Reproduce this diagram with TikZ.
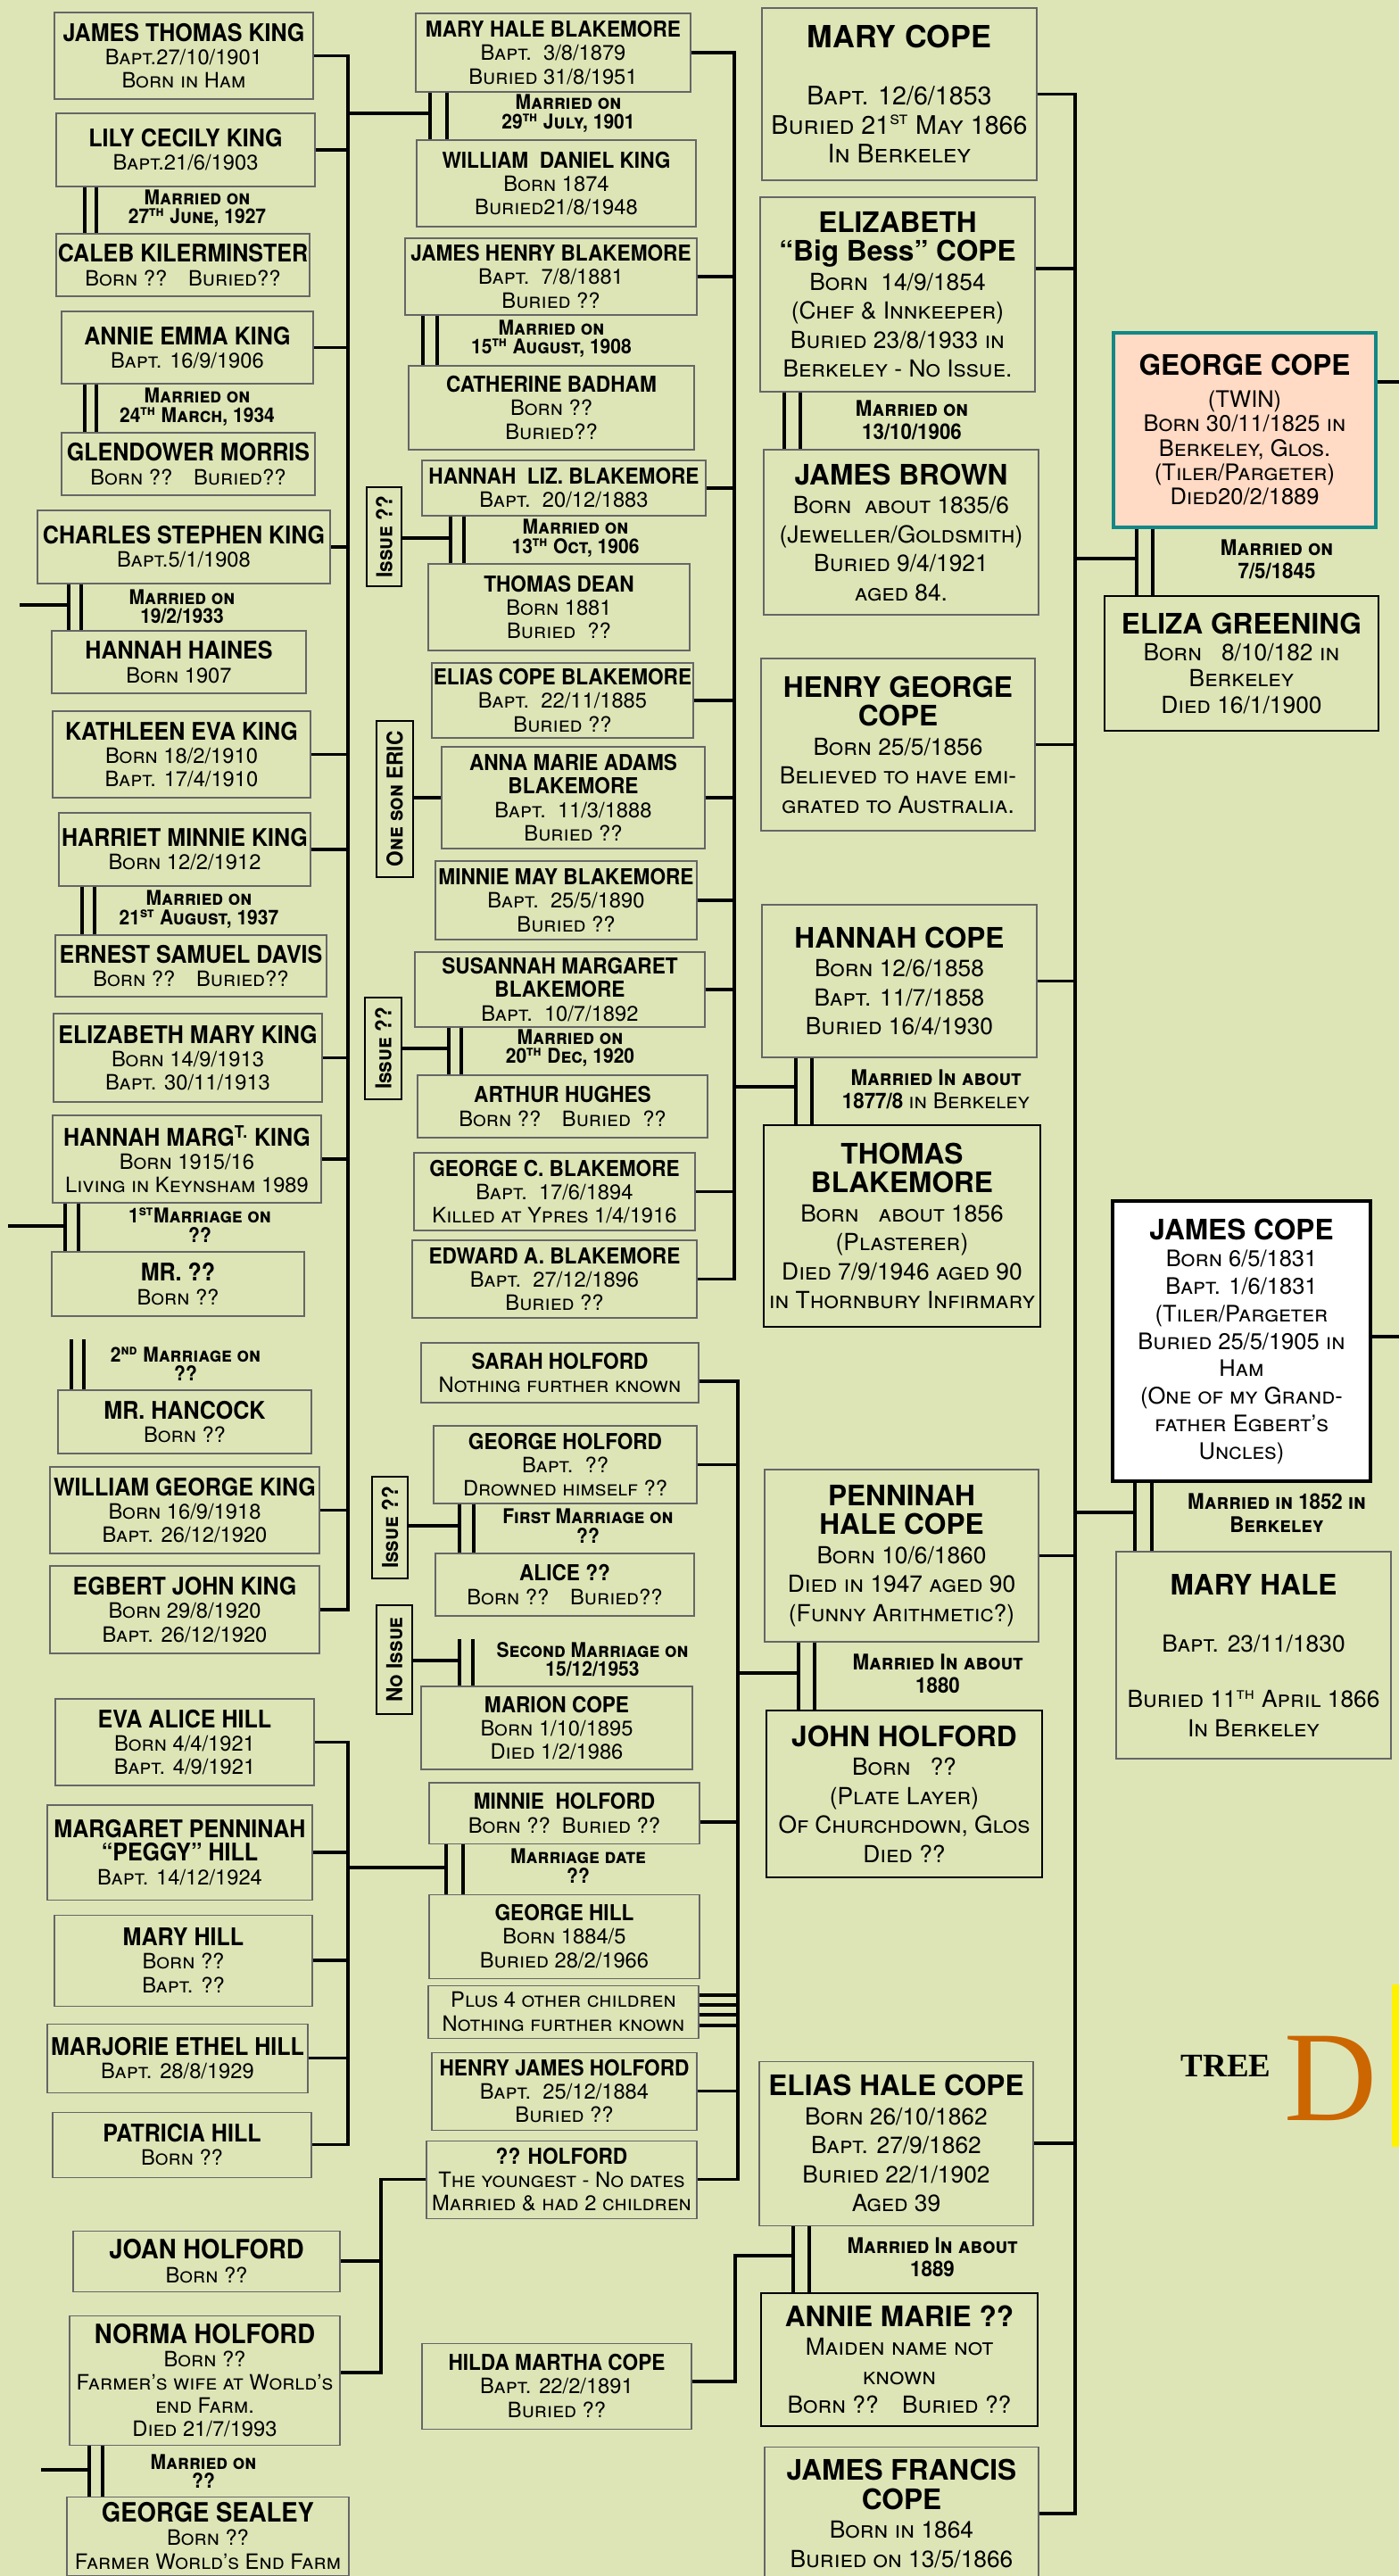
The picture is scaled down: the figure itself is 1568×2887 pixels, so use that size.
\documentclass[tikz,border=0pt]{standalone}
\usepackage{fontspec}
\setmainfont{TeX Gyre Heros}[BoldFeatures={FakeStretch=0.92}]
\newfontfamily\copefont{TeX Gyre Heros}
\newfontfamily\treefont{Liberation Serif}
\usepackage{tikz}
\definecolor{bg}{RGB}{221,229,183}
\definecolor{peach}{RGB}{255,218,196}
\definecolor{tealline}{RGB}{20,135,135}
\definecolor{dorange}{RGB}{204,102,0}
\def\nmsize{14}
\def\nmbsize{18}
\newcommand\nm[1]{{\fontsize{\nmsize}{15}\selectfont\bfseries\upshape #1}}
\newcommand\nmb[1]{{\copefont\fontsize{\nmbsize}{18.5}\selectfont\bfseries\upshape #1}}

\begin{document}
\begin{tikzpicture}[x=0.02cm,y=-0.02cm,
  corners/.style n args={4}{at={({(#1+#3)/2},{(#2+#4)/2})},minimum width={(#3-#1)*0.02cm},minimum height={(#4-#2)*0.02cm}},
  vcorners/.style n args={4}{at={({(#1+#3)/2},{(#2+#4)/2})},minimum width={(#4-#2)*0.02cm},minimum height={(#3-#1)*0.02cm}},
  person/.style={draw=black!60,line width=0.6pt,fill=bg,align=center,inner sep=0pt,font=\fontsize{13.5}{14.9}\selectfont\scshape},
  king/.style={person,font=\fontsize{13.5}{14.9}\selectfont\scshape\def\nmsize{15.5}},
  far/.style={person,font=\fontsize{13.5}{14.9}\selectfont\scshape\def\nmsize{17}},
  cope/.style={person,font=\fontsize{15}{18.5}\selectfont\scshape},
  heavy/.style={draw=black,line width=1.3pt},
  tag/.style={draw=black,line width=1.2pt,fill=bg,inner sep=0pt,rotate=90,font=\fontsize{14}{14}\selectfont\bfseries\scshape},
  wed/.style={align=center,inner sep=0pt,font=\fontsize{13}{12.2}\selectfont\bfseries\scshape},
  wedb/.style={wed,font=\fontsize{13.8}{14.7}\selectfont\bfseries\scshape},
  link/.style={line width=2pt},
  tie/.style={line width=1.9pt}]
\useasboundingbox (0,0) rectangle (1568,2887);
\fill[bg] (0,0) rectangle (1568,2887);

\node[king,corners={61}{14}{351}{111}] (jtk) {\nm{JAMES THOMAS KING}\\Bapt.27/10/1901\\Born in Ham};
\node[king,corners={63}{127}{353}{209}] (lck) {\nm{LILY CECILY KING}\\Bapt.21/6/1903};
\node[king,corners={63}{262}{347}{332}] (ckm) {\nm{CALEB KILERMINSTER}\\Born ??\quad Buried??};
\node[king,corners={69}{349}{351}{430}] (aek) {\nm{ANNIE EMMA KING}\\Bapt. 16/9/1906};
\node[king,corners={69}{485}{353}{555}] (gmo) {\nm{GLENDOWER MORRIS}\\Born ??\quad Buried??};
\node[king,corners={42}{572}{370}{654}] (csk) {\nm{CHARLES STEPHEN KING}\\Bapt.5/1/1908};
\node[king,corners={58}{707}{343}{777}] (hha) {\nm{HANNAH HAINES}\\Born 1907};
\node[king,corners={59}{797}{348}{894}] (kek) {\nm{KATHLEEN EVA KING}\\Born 18/2/1910\\Bapt. 17/4/1910};
\node[king,corners={66}{911}{348}{993}] (hmk) {\nm{HARRIET MINNIE KING}\\Born 12/2/1912};
\node[king,corners={62}{1048}{366}{1117}] (esd) {\nm{ERNEST SAMUEL DAVIS}\\Born ??\quad Buried??};
\node[king,corners={60}{1136}{361}{1235}] (emk) {\nm{ELIZABETH MARY KING}\\Born 14/9/1913\\Bapt. 30/11/1913};
\node[king,corners={59}{1250}{360}{1348}] (hgk) {\nm{HANNAH MARG\textsuperscript{T.} KING}\\Born 1915/16\\Living in Keynsham 1989};
\node[king,corners={58}{1403}{341}{1475}] (mrq) {\nm{MR. ??}\\Born ??};
\node[king,corners={65}{1558}{349}{1629}] (mrh) {\nm{MR. HANCOCK}\\Born ??};
\node[king,corners={56}{1644}{358}{1741}] (wgk) {\nm{WILLIAM GEORGE KING}\\Born 16/9/1918\\Bapt. 26/12/1920};
\node[king,corners={56}{1755}{358}{1853}] (ejk) {\nm{EGBERT JOHN KING}\\Born 29/8/1920\\Bapt. 26/12/1920};
\node[king,corners={62}{1904}{352}{2001}] (eah) {\nm{EVA ALICE HILL}\\Born 4/4/1921\\Bapt. 4/9/1921};
\node[king,corners={53}{2023}{350}{2129}] (mph) {\nm{MARGARET PENNINAH}\\\nm{“PEGGY” HILL}\\Bapt. 14/12/1924};
\node[king,corners={61}{2146}{350}{2248}] (myh) {\nm{MARY HILL}\\Born ??\\Bapt. ??};
\node[king,corners={53}{2268}{345}{2345}] (meh) {\nm{MARJORIE ETHEL HILL}\\Bapt. 28/8/1929};
\node[king,corners={59}{2367}{349}{2440}] (pah) {\nm{PATRICIA HILL}\\Born ??};
\node[far,corners={82}{2500}{381}{2568}] (jhf) {\nm{JOAN HOLFORD}\\Born ??};
\node[far,corners={78}{2595}{381}{2740}] (nhf) {\nm{NORMA HOLFORD}\\Born ??\\Farmer’s wife at World’s\\end Farm.\\Died 21/7/1993};
\node[far,corners={75}{2798}{391}{2886}] (gse) {\nm{GEORGE SEALEY}\\Born ??\\Farmer World’s End Farm};

\node[person,corners={466}{15}{774}{103}] (mhb) {\nm{MARY HALE BLAKEMORE}\\Bapt.\ \ 3/8/1879\\Buried 31/8/1951};
\node[person,corners={467}{157}{780}{254}] (wdk) {\nm{WILLIAM\ \ DANIEL KING}\\Born 1874\\Buried21/8/1948};
\node[person,corners={454}{267}{781}{353}] (jhb) {\nm{JAMES HENRY BLAKEMORE}\\Bapt.\ \ 7/8/1881\\Buried ??};
\node[person,corners={458}{410}{778}{504}] (cba) {\nm{CATHERINE BADHAM}\\Born ??\\Buried??};
\node[person,corners={473}{516}{791}{578}] (hlb) {\nm{HANNAH\ \ LIZ. BLAKEMORE}\\Bapt.\ \ 20/12/1883};
\node[person,corners={480}{632}{773}{729}] (tde) {\nm{THOMAS DEAN}\\Born 1881\\Buried\ \ ??};
\node[person,corners={484}{743}{777}{827}] (ecb) {\nm{ELIAS COPE BLAKEMORE}\\Bapt.\ \ 22/11/1885\\Buried ??};
\node[person,corners={495}{837}{790}{951}] (ama) {\nm{ANNA MARIE ADAMS}\\\nm{BLAKEMORE}\\Bapt.\ \ 11/3/1888\\Buried ??};
\node[person,corners={488}{965}{781}{1053}] (mmb) {\nm{MINNIE MAY BLAKEMORE}\\Bapt.\ \ 25/5/1890\\Buried ??};
\node[person,corners={465}{1067}{790}{1151}] (smb) {\nm{SUSANNAH MARGARET}\\\nm{BLAKEMORE}\\Bapt.\ \ 10/7/1892};
\node[person,corners={468}{1205}{793}{1275}] (ahu) {\nm{ARTHUR HUGHES}\\Born ??\quad Buried\ \ ??};
\node[person,corners={464}{1292}{779}{1379}] (gcb) {\nm{GEORGE C. BLAKEMORE}\\Bapt.\ \ 17/6/1894\\Killed at Ypres 1/4/1916};
\node[person,corners={462}{1390}{781}{1477}] (eab) {\nm{EDWARD A. BLAKEMORE}\\Bapt.\ \ 27/12/1896\\Buried ??};
\node[person,corners={472}{1505}{783}{1572}] (sho) {\nm{SARAH HOLFORD}\\Nothing further known};
\node[person,corners={486}{1598}{781}{1685}] (gho) {\nm{GEORGE HOLFORD}\\Bapt.\ \ ??\\Drowned himself ??};
\node[person,corners={488}{1741}{778}{1811}] (ali) {\nm{ALICE ??}\\Born ??\quad Buried??};
\node[person,corners={472}{1890}{776}{1983}] (mco) {\nm{MARION COPE}\\Born 1/10/1895\\Died 1/2/1986};
\node[person,corners={481}{1998}{784}{2066}] (mho) {\nm{MINNIE\ \ HOLFORD}\\Born ??\ \ Buried ??};
\node[person,corners={481}{2123}{784}{2217}] (ghi) {\nm{GEORGE HILL}\\Born 1884/5\\Buried 28/2/1966};
\node[person,corners={480}{2225}{783}{2284}] (p4o) {Plus 4 other children\\Nothing further known};
\node[person,corners={484}{2300}{781}{2387}] (hjh) {\nm{HENRY JAMES HOLFORD}\\Bapt.\ \ 25/12/1884\\Buried ??};
\node[person,corners={478}{2399}{781}{2486}] (qho) {\nm{?? HOLFORD}\\The youngest - No dates\\Married \& had 2 children};
\node[person,corners={473}{2626}{775}{2722}] (hmc) {\nm{HILDA MARTHA COPE}\\Bapt. 22/2/1891\\Buried ??};

\node[tag,vcorners={411}{546}{450}{657}] (is1) {Issue ??};
\node[tag,vcorners={422}{808}{463}{983}] (ose) {One son ERIC};
\node[tag,vcorners={409}{1118}{450}{1232}] (is2) {Issue ??};
\node[tag,vcorners={417}{1655}{457}{1769}] (is3) {Issue ??};
\node[tag,vcorners={422}{1799}{462}{1921}] (nis) {No Issue};

\node[cope,font=\fontsize{16.3}{18.5}\selectfont\scshape\def\nmbsize{19.5},corners={854}{9}{1162}{202}] (mcp) {\nmb{MARY COPE}\\[18pt]Bapt. 12/6/1853\\Buried 21\textsuperscript{st} May 1866\\In Berkeley};
\node[cope,corners={852}{221}{1160}{439}] (ebc) {\nmb{ELIZABETH}\\\nmb{“Big Bess” COPE}\\Born\ \ 14/9/1854\\(Chef \& Innkeeper)\\Buried 23/8/1933 in\\Berkeley - No Issue.};
\node[cope,corners={856}{504}{1164}{689}] (jbr) {\nmb{JAMES BROWN}\\Born\ \ about 1835/6\\(Jeweller/Goldsmith)\\Buried 9/4/1921\\aged 84.};
\node[cope,corners={853}{738}{1160}{931}] (hgc) {\nmb{HENRY GEORGE}\\\nmb{COPE}\\Born 25/5/1856\\Believed to have emi-\\grated to Australia.};
\node[cope,corners={854}{1014}{1162}{1185}] (hco) {\nmb{HANNAH COPE}\\Born 12/6/1858\\Bapt. 11/7/1858\\Buried 16/4/1930};
\node[cope,heavy,corners={856}{1261}{1166}{1487}] (tbl) {\nmb{THOMAS}\\\nmb{BLAKEMORE}\\Born\ \ \ about 1856\\(Plasterer)\\Died 7/9/1946 aged 90\\in Thornbury Infirmary};
\node[cope,corners={857}{1647}{1164}{1840}] (phc) {\nmb{PENNINAH}\\\nmb{HALE COPE}\\Born 10/6/1860\\Died in 1947 aged 90\\(Funny Arithmetic?)};
\node[cope,heavy,corners={859}{1917}{1168}{2104}] (jhd) {\nmb{JOHN HOLFORD}\\Born\ \ \ ??\\(Plate Layer)\\Of Churchdown, Glos\\Died ??};
\node[cope,corners={851}{2310}{1158}{2494}] (ehc) {\nmb{ELIAS HALE COPE}\\Born 26/10/1862\\Bapt. 27/9/1862\\Buried 22/1/1902\\Aged 39};
\node[cope,heavy,corners={853}{2570}{1163}{2719}] (amq) {\nmb{ANNIE MARIE ??}\\Maiden name not\\known\\Born ??\quad Buried ??};
\node[cope,corners={857}{2742}{1164}{2892}] (jfc) {\nmb{JAMES FRANCIS}\\\nmb{COPE}\\Born in 1864\\Buried on 13/5/1866};

\node[cope,draw=tealline,line width=1.8pt,fill=peach,font=\fontsize{14.5}{15.6}\selectfont\scshape,corners={1248}{373}{1542}{591}] (gco) {\nmb{GEORGE COPE}\\[4.5pt](TWIN)\\Born 30/11/1825 in\\Berkeley, Glos.\\(Tiler/Pargeter)\\Died20/2/1889};
\node[cope,heavy,font=\fontsize{15}{17}\selectfont\scshape,corners={1238}{668}{1545}{819}] (egr) {\nmb{ELIZA GREENING}\\Born\ \ \ 8/10/182 in\\Berkeley\\Died 16/1/1900};
\node[cope,draw=black,line width=2.5pt,fill=white,font=\fontsize{14.5}{17.5}\selectfont\scshape,corners={1247}{1346}{1536}{1660}] (jco) {\nmb{JAMES COPE}\\Born 6/5/1831\\Bapt. 1/6/1831\\(Tiler/Pargeter\\Buried 25/5/1905 in\\Ham\\(One of my Grand-\\father Egbert’s\\Uncles)};
\node[cope,corners={1251}{1739}{1559}{1971}] (mha) {\nmb{MARY HALE}\\[18pt]Bapt. 23/11/1830\\[17pt]Buried 11\textsuperscript{th} April 1866\\In Berkeley};

\node[wed] (m1) at (637,127) {Married on\\29\textsuperscript{th} July, 1901};
\node[wed] (m2) at (221,233.5) {Married on\\27\textsuperscript{th} June, 1927};
\node[wed] (m3) at (221,456) {Married on\\24\textsuperscript{th} March, 1934};
\node[wed] (m4) at (204,680) {Married on\\19/2/1933};
\node[wed] (m5) at (618,379.5) {Married on\\15\textsuperscript{th} August, 1908};
\node[wed] (m6) at (645,603) {Married on\\13\textsuperscript{th} Oct, 1906};
\node[wed] (m7) at (223,1019) {Married on\\21\textsuperscript{st} August, 1937};
\node[wed] (m8) at (224,1373) {1\textsuperscript{st}Marriage on\\??};
\node[wed] (m9) at (208,1528.5) {2\textsuperscript{nd} Marriage on\\??};
\node[wed] (m10) at (639,1174.5) {Married on\\20\textsuperscript{th} Dec, 1920};
\node[wed] (m11) at (659,1710) {First Marriage on\\??};
\node[wed] (m12) at (664,1859.5) {Second Marriage on\\15/12/1953};
\node[wed] (m13) at (648,2091) {Marriage date\\??};
\node[wed] (m14) at (228,2769.5) {Married on\\??};
\node[wedb] (m15) at (1022,471) {Married on\\13/10/1906};
\node[wedb] (m16) at (1049,1220.5) {Married In about\\1877/8 {\mdseries in Berkeley}};
\node[wedb] (m17) at (1051,1876) {Married In about\\1880};
\node[wedb] (m18) at (1045,2530) {Married In about\\1889};
\node[wedb] (m19) at (1431,627) {Married on\\7/5/1845};
\node[wedb] (m20) at (1431,1695.5) {Married in 1852 in\\Berkeley};

\coordinate (kspine) at (390,0);
\coordinate (ilspine) at (390,0);
\coordinate (jspine) at (427,0);
\coordinate (bspine) at (823,0);
\coordinate (hspine) at (827,0);
\coordinate (cspine) at (1205,0);
\coordinate (w1) at (482,127);
\coordinate (w2) at (505,603);
\coordinate (w3) at (503,1175);
\coordinate (w4) at (515,1710);
\coordinate (w5) at (515,1861);
\coordinate (w6) at (500,2093);
\coordinate (w7) at (892,1218);
\coordinate (w8) at (895,1875);
\coordinate (w9) at (889,2528);
\coordinate (w10) at (1274,626);
\coordinate (w11) at (1272,1695);
\coordinate (o1) at (22,678);
\coordinate (o2) at (9,1374);
\coordinate (o3) at (46,2768);

\draw[link] (jtk.east) -| (kspine |- ejk.east) -- (ejk.east);
\foreach \n in {lck,aek,csk,kek,hmk,emk,hgk,wgk}
  \draw[link] (\n.east) -- (\n.east -| kspine);
\draw[link] (kspine |- w1) -- (w1);
\draw[link] (eah.east) -| (ilspine |- pah.east) -- (pah.east);
\foreach \n in {mph,myh,meh}
  \draw[link] (\n.east) -- (\n.east -| ilspine);
\draw[link] (ilspine |- w6) -- (w6);
\draw[link] (qho.west) -| (jspine |- 0,2659) -- (nhf.east |- 0,2659);
\draw[link] (jhf.east) -- (jhf.east -| jspine);
\draw[link] (mhb.east) -| (bspine |- eab.east) -- (eab.east);
\foreach \n in {jhb,hlb,ecb,ama,mmb,smb,gcb}
  \draw[link] (\n.east) -- (\n.east -| bspine);
\draw[link] (bspine |- w7) -- (w7);
\draw[link] (sho.east |- 0,1548) -| (hspine |- qho.east) -- (qho.east);
\foreach \n in {gho,hjh}
  \draw[link] (\n.east) -- (\n.east -| hspine);
\draw[link] (mho.east |- 0,2042) -- (hspine |- 0,2042);
\foreach \y in {2236,2247,2258,2270}
  \draw[link] (p4o.east |- 0,\y) -- (hspine |- 0,\y);
\draw[link] (hspine |- w8) -- (w8);
\draw[link] (hmc.east |- 0,2669) -| (w9 -| 824,0) -- (w9);
\draw[link] (mcp.east) -| (cspine |- jfc.east) -- (jfc.east);
\draw[link] (ebc.east |- 0,301) -- (cspine |- 0,301);
\foreach \n in {hgc,hco,phc,ehc}
  \draw[link] (\n.east) -- (\n.east -| cspine);
\draw[link] (cspine |- w10) -- (w10);
\draw[link] (cspine |- w11) -- (w11);
\draw[link] (gco.east |- 0,428) -- +(30,0);
\draw[link] (jco.east |- 0,1498) -- +(40,0);
\draw[link] (w2 -| is1.south) -- (w2);
\draw[link] (w3 -| is2.south) -- (w3);
\draw[link] (w4 -| is3.south) -- (w4);
\draw[link] (w5 -| nis.south) -- (w5);
\draw[link] (ama.west -| ose.south) -- (ama.west);
\draw[link] (o1) -- (77,678);
\draw[link] (o2) -- (73,1374);
\draw[link] (o3) -- (100,2768);

\foreach \xa/\xb/\ua/\ub in {482/501/mhb/wdk, 95/108/lck/ckm, 95/108/aek/gmo, 77/91/csk/hha,
    92/106/hmk/esd, 73/88/hgk/mrq, 474/490/jhb/cba, 505/520/hlb/tde, 503/517/smb/ahu,
    515/531/gho/ali, 500/519/mho/ghi, 100/115/nhf/gse, 879/897/ebc/jbr, 892/910/hco/tbl,
    895/913/phc/jhd, 889/907/ehc/amq, 1274/1292/gco/egr, 1272/1291/jco/mha}
  \draw[tie] (\xa,0 |- \ua.south) -- (\xa,0 |- \ub.north) (\xb,0 |- \ua.south) -- (\xb,0 |- \ub.north);
\draw[tie] (80,1501) -- (80,0 |- mrh.north) (94,1501) -- (94,0 |- mrh.north);
\draw[tie] (515,1837) -- (515,0 |- mco.north) (530,1837) -- (530,0 |- mco.north);

\node[font=\treefont\bfseries\fontsize{21}{21}\selectfont,inner sep=0pt] (tree) at (1374,2315) {TREE};
\node[font=\treefont\fontsize{82}{82}\selectfont,text=dorange,inner sep=0pt] (dd) at (1492,2329) {D};
\fill[yellow] (1560,2224) rectangle (1568,2406);
\end{tikzpicture}
\end{document}
